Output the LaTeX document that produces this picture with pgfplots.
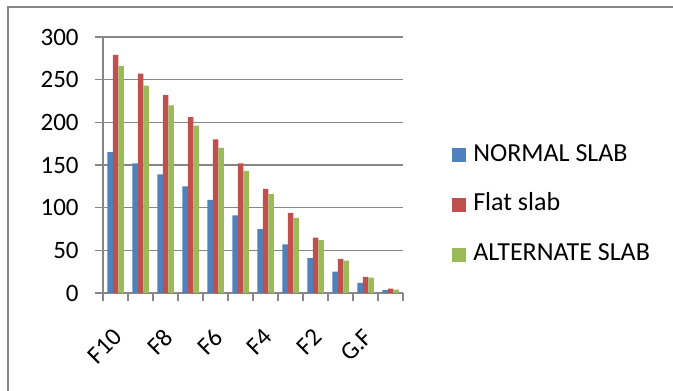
\documentclass[border=0pt]{standalone}
\usepackage{pgfplots}
\pgfplotsset{compat=1.18}
\usepackage{fontspec}
\setmainfont{Carlito}
\definecolor{barblue}{HTML}{4F81BD}
\definecolor{barred}{HTML}{C0504D}
\definecolor{bargreen}{HTML}{9BBB59}
\definecolor{gridgray}{HTML}{878787}
% square legend markers
\pgfplotsset{sqlegend/.style={legend image code/.code={\fill[##1] (0bp,-3.5bp) rectangle (7bp,3.5bp); \path (10.5bp,0);}}}

\begin{document}
\begin{tikzpicture}
\path[use as bounding box] (0,0) rectangle (336.5bp,195.5bp);
% chart frame
\draw[gridgray, line width=1bp] (4bp,0) -- (4bp,192bp) -- (336.5bp,192bp);
\begin{axis}[
  at={(51.5bp,49bp)}, anchor=south west,
  scale only axis, width=150bp, height=128bp,
  xmin=-0.5, xmax=11.5, ymin=0, ymax=300,
  ybar=0pt, bar width=0.22,
  axis lines*=left,
  axis line style={gridgray, line width=0.75bp},
  tick align=outside,
  tick style={gridgray, line width=0.75bp},
  major tick length=4bp, minor tick length=4bp,
  ytick={0,50,...,300},
  ymajorgrids, grid style={gridgray, line width=0.75bp},
  xtick={0,2,4,6,8,10},
  xticklabels={F10,F8,F6,F4,F2,G.F},
  major x tick style={draw=none},
  minor xtick={-0.5,0.5,...,11.5},
  /pgf/number format/assume math mode=true,
  yticklabel style={font=\fontsize{12.5bp}{15bp}\selectfont, anchor=east, inner sep=0pt, xshift=-8bp},
  xticklabel style={font=\fontsize{12.5bp}{15bp}\selectfont, xshift=1.5bp, yshift=-16bp, rotate=45, anchor=east, inner sep=0pt},
  legend style={at={(1.163,0.583)}, anchor=north west, draw=none, fill=none,
    inner sep=0pt, row sep=13.9bp, cells={anchor=west},
    font=\fontsize{13bp}{15bp}\selectfont,
    nodes={inner sep=0pt, text height=8.5bp, text depth=2.5bp}},
]
\addplot[fill=barblue, draw=none, sqlegend] coordinates {
  (0,165) (1,152) (2,139) (3,125) (4,109) (5,91) (6,75) (7,57) (8,41) (9,25) (10,12) (11,3.5)};
\addplot[fill=barred, draw=none, sqlegend] coordinates {
  (0,279) (1,257) (2,232) (3,206) (4,180) (5,152) (6,122) (7,94) (8,65) (9,40) (10,19) (11,5)};
\addplot[fill=bargreen, draw=none, sqlegend] coordinates {
  (0,266) (1,243) (2,220) (3,196) (4,170) (5,143) (6,116) (7,88) (8,62) (9,38) (10,18) (11,4)};
\legend{NORMAL SLAB, Flat slab, ALTERNATE SLAB}
\end{axis}
\end{tikzpicture}
\end{document}
